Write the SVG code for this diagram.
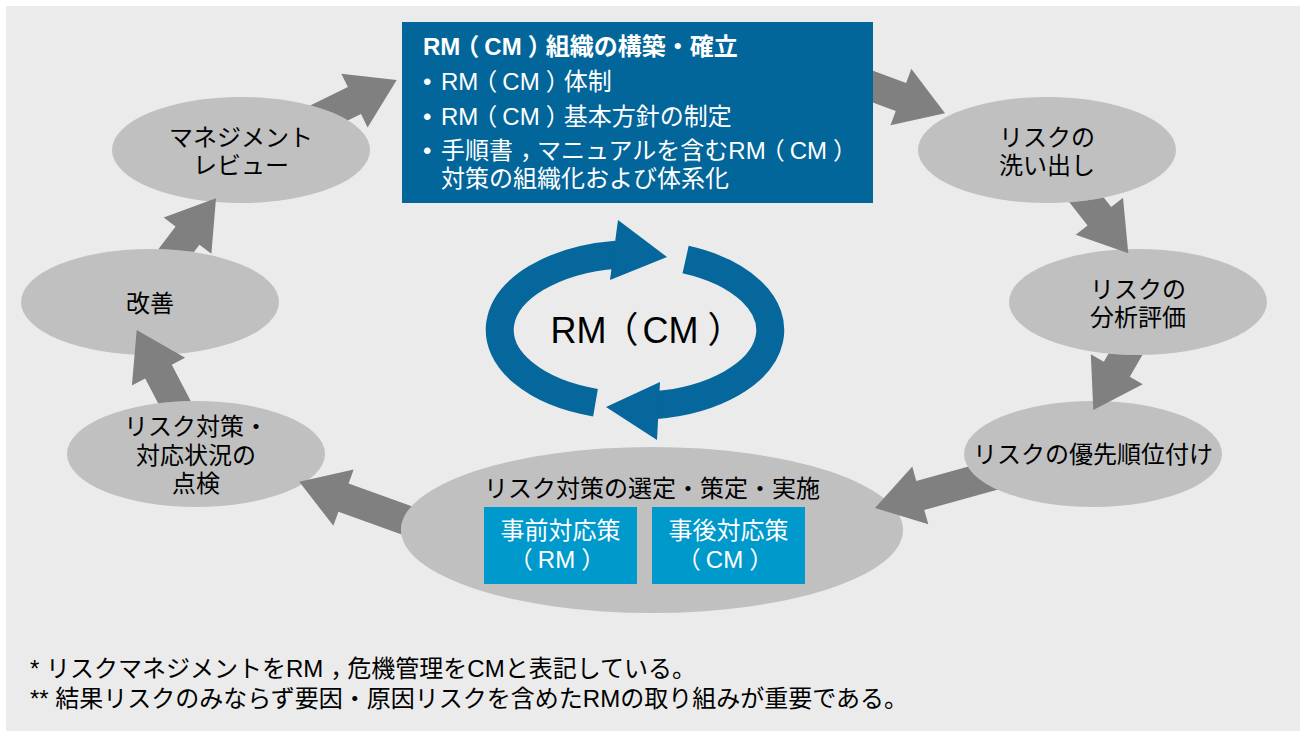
<svg xmlns="http://www.w3.org/2000/svg" width="1300" height="731" viewBox="0 0 1300 731">
<style>
text{font-family:'Liberation Sans','Noto Sans CJK JP',sans-serif;}
.lbl{font-size:24px;fill:#000;text-anchor:middle;}
.wt{font-size:24px;fill:#fff;}
.wc{font-size:24px;fill:#fff;text-anchor:middle;}
.node{fill:#c0c0c0;}
.arr{fill:#808080;}
.ring{fill:none;stroke:#05679b;stroke-width:28;}
.foot{font-size:24px;fill:#000;}
</style>
<defs>
<path id="arrow" d="M0,0 L-47,-30 L-47,-15 L-160,-15 L-160,15 L-47,15 L-47,30 Z"/>
<mask id="m1" maskUnits="userSpaceOnUse" x="0" y="0" width="1300" height="731"><rect width="1300" height="731" fill="#fff"/><rect x="402" y="22" width="471" height="181" fill="#000"/></mask>
<mask id="m2" maskUnits="userSpaceOnUse" x="0" y="0" width="1300" height="731"><rect width="1300" height="731" fill="#fff"/><ellipse cx="1047" cy="150" rx="129" ry="53" fill="#000"/></mask>
<mask id="m3" maskUnits="userSpaceOnUse" x="0" y="0" width="1300" height="731"><rect width="1300" height="731" fill="#fff"/><ellipse cx="1138" cy="302" rx="129" ry="53" fill="#000"/></mask>
<mask id="m4" maskUnits="userSpaceOnUse" x="0" y="0" width="1300" height="731"><rect width="1300" height="731" fill="#fff"/><ellipse cx="1093" cy="454" rx="129" ry="53" fill="#000"/></mask>
<mask id="m5" maskUnits="userSpaceOnUse" x="0" y="0" width="1300" height="731"><rect width="1300" height="731" fill="#fff"/><ellipse cx="652" cy="530" rx="251" ry="83" fill="#000"/></mask>
<mask id="m6" maskUnits="userSpaceOnUse" x="0" y="0" width="1300" height="731"><rect width="1300" height="731" fill="#fff"/><ellipse cx="196" cy="454" rx="129" ry="53" fill="#000"/></mask>
<mask id="m7" maskUnits="userSpaceOnUse" x="0" y="0" width="1300" height="731"><rect width="1300" height="731" fill="#fff"/><ellipse cx="150" cy="302" rx="129" ry="53" fill="#000"/></mask>
<mask id="m8" maskUnits="userSpaceOnUse" x="0" y="0" width="1300" height="731"><rect width="1300" height="731" fill="#fff"/><ellipse cx="241" cy="150" rx="129" ry="53" fill="#000"/></mask>
</defs>
<rect x="0" y="0" width="1300" height="731" fill="#fff"/>
<rect x="6" y="6" width="1294" height="725" fill="#ebebeb"/>

<g id="node-org">
<rect x="402" y="22" width="471" height="181" fill="#03669a"/>
<text x="423" y="55" class="wt" font-weight="bold" dx="0 0 -5 5 0 6 -6">RM（CM）組織の構築・確立</text>
<text x="423" y="90" class="wt">•</text><text x="441" y="90" class="wt" dx="0 0 -5 5 0 6 -6">RM（CM）体制</text>
<text x="423" y="125" class="wt">•</text><text x="441" y="125" class="wt" dx="0 0 -5 5 0 6 -6">RM（CM）基本方針の制定</text>
<text x="423" y="159" class="wt">•</text><text x="441" y="159" class="wt" dx="0 0 0 7 -7 0 0 0 0 0 0 0 0 0 -5 5 0 6">手順書，マニュアルを含むRM（CM）</text>
<text x="441" y="187" class="wt">対策の組織化および体系化</text>
</g>
<g id="node-review">
<ellipse class="node" cx="241" cy="150" rx="129" ry="53"/>
<text x="241" y="146" class="lbl">マネジメント</text>
<text x="241" y="174" class="lbl">レビュー</text>
</g>
<g id="node-improve">
<ellipse class="node" cx="150" cy="302" rx="129" ry="53"/>
<text x="150" y="312" class="lbl">改善</text>
</g>
<g id="node-check">
<ellipse class="node" cx="196" cy="454" rx="129" ry="53"/>
<text x="196" y="435" class="lbl">リスク対策・</text>
<text x="196" y="464" class="lbl">対応状況の</text>
<text x="196" y="492" class="lbl">点検</text>
</g>
<g id="node-identify">
<ellipse class="node" cx="1047" cy="150" rx="129" ry="53"/>
<text x="1047" y="146" class="lbl">リスクの</text>
<text x="1047" y="174" class="lbl">洗い出し</text>
</g>
<g id="node-analyze">
<ellipse class="node" cx="1138" cy="302" rx="129" ry="53"/>
<text x="1138" y="298" class="lbl">リスクの</text>
<text x="1138" y="326" class="lbl">分析評価</text>
</g>
<g id="node-priority">
<ellipse class="node" cx="1093" cy="454" rx="129" ry="53"/>
<text x="1093" y="463" class="lbl">リスクの優先順位付け</text>
</g>
<g id="node-measures">
<ellipse class="node" cx="652" cy="530" rx="251" ry="83"/>
<text x="652" y="497" class="lbl">リスク対策の選定・策定・実施</text>
<rect x="484" y="507" width="153" height="77" fill="#0099cc"/>
<text x="560.5" y="539" class="wc">事前対応策</text>
<text x="562" y="568" class="wc" dx="-5 5 0 6">（RM）</text>
<rect x="652" y="507" width="153" height="77" fill="#0099cc"/>
<text x="728.5" y="539" class="wc">事後対応策</text>
<text x="730" y="568" class="wc" dx="-5 5 0 6">（CM）</text>
</g>

<g id="cycle">
<path class="ring" d="M595.5,402.7 A135,76 0 0 1 616.2,254.7"/>
<polygon fill="#05679b" points="618,220 667,257 610,280"/>
<path class="ring" d="M685.6,259.5 A135,76 0 0 1 653.8,405.3"/>
<polygon fill="#05679b" points="660,382 606,407 657,440"/>
<text x="647" y="343" font-size="36" text-anchor="middle" fill="#000" dx="0 0 -4 4 0 9">RM（CM）</text>
</g>

<g id="connectors" class="arr">
<g mask="url(#m1)"><use href="#arrow" transform="translate(945,113.3) rotate(20.3)"/></g>
<g mask="url(#m2)"><use href="#arrow" transform="translate(1128.3,253.3) rotate(52)"/></g>
<g mask="url(#m3)"><use href="#arrow" transform="translate(1093.3,410) rotate(120)"/></g>
<g mask="url(#m4)"><use href="#arrow" transform="translate(875,508) rotate(164.5)"/></g>
<g mask="url(#m5)"><use href="#arrow" transform="translate(299.3,481.7) rotate(199.8)"/></g>
<g mask="url(#m6)"><use href="#arrow" transform="translate(136.7,330) rotate(242.4)"/></g>
<g mask="url(#m7)"><use href="#arrow" transform="translate(216,198.3) rotate(-52.7)"/></g>
<g mask="url(#m8)"><use href="#arrow" transform="translate(396.7,80) rotate(-26)"/></g>
</g>

<g id="footnotes">
<text x="30" y="677" class="foot" dx="0 0 0 0 0 0 0 0 0 0 0 0 0 0 7 -7">* リスクマネジメントをRM，危機管理をCMと表記している。</text>
<text x="30" y="707" class="foot">** 結果リスクのみならず要因・原因リスクを含めたRMの取り組みが重要である。</text>
</g>
</svg>
